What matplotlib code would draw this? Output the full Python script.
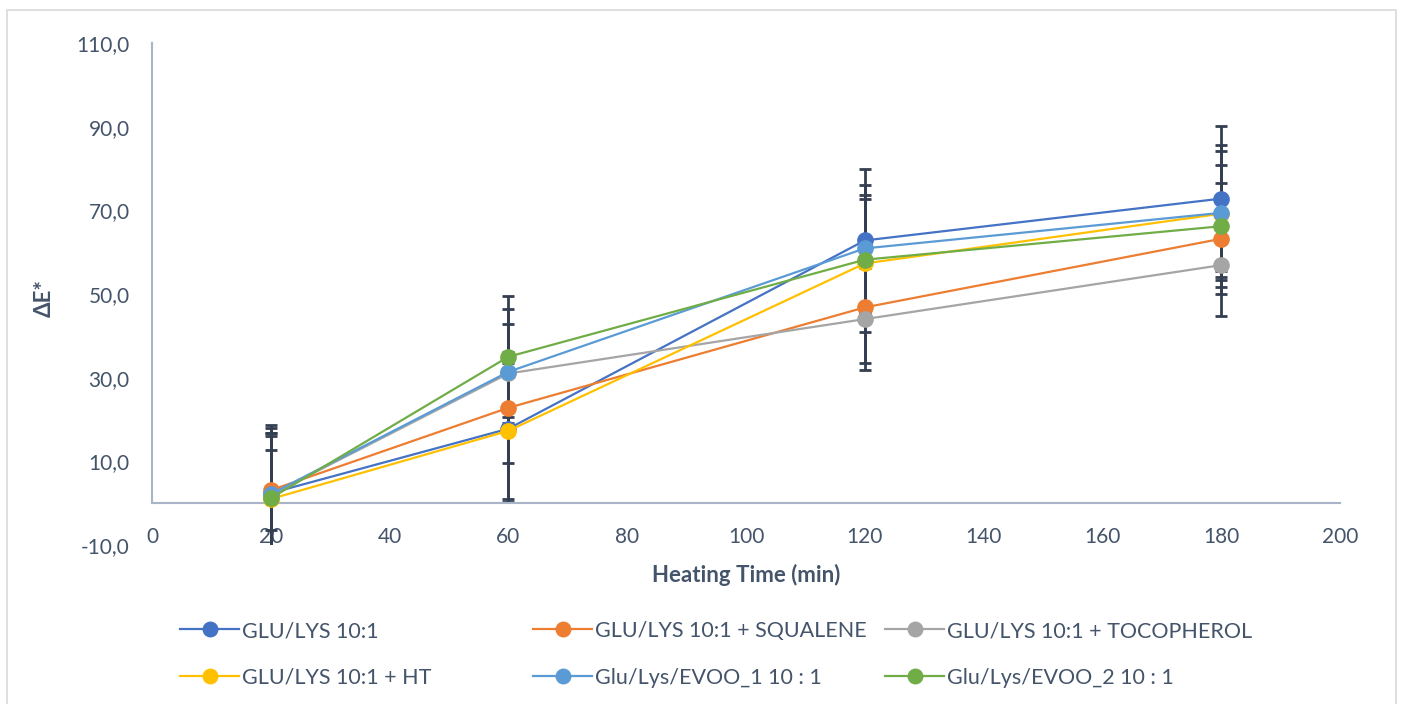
import matplotlib
matplotlib.use("Agg")
import matplotlib.pyplot as plt
from matplotlib.patches import Rectangle

# ---- data ----
heating_time = [20, 60, 120, 180]
series_names = ["GLU/LYS 10:1", "GLU/LYS 10:1 + SQUALENE", "GLU/LYS 10:1 + TOCOPHEROL",
                "GLU/LYS 10:1 + HT", "Glu/Lys/EVOO_1 10 : 1", "Glu/Lys/EVOO_2 10 : 1"]
glu_lys = [2.4, 17.8, 62.8, 72.8]
glu_lys_err = [16.2, 17.5, 17.2, 17.3]
squalene = [3.1, 22.8, 46.8, 63.2]
squalene_err = [9.6, 13.3, 13.4, 13.3]
tocopherol = [2.0, 31.0, 44.0, 56.9]
tocopherol_err = [14.7, 11.9, 12.1, 12.2]
ht = [1.0, 17.3, 57.3, 69.2]
ht_err = [15.7, 16.2, 16.3, 15.1]
evoo1 = [2.2, 31.4, 60.9, 69.4]
evoo1_err = [15.7, 15.1, 15.1, 16.1]
evoo2 = [1.2, 35.0, 58.2, 66.2]
evoo2_err = [14.8, 14.5, 14.6, 14.6]

x_ticks = [0, 20, 40, 60, 80, 100, 120, 140, 160, 180, 200]
y_ticks = [-10, 10, 30, 50, 70, 90, 110]
y_tick_labels = ["-10,0", "10,0", "30,0", "50,0", "70,0", "90,0", "110,0"]

colors = ["#4472C4", "#ED7D31", "#A5A5A5", "#FFC000", "#5B9BD5", "#70AD47"]
values = [glu_lys, squalene, tocopherol, ht, evoo1, evoo2]
errors = [glu_lys_err, squalene_err, tocopherol_err, ht_err, evoo1_err, evoo2_err]

text_color = "#44546A"
axis_color = "#A9B4C8"
err_color = "#333F50"

plt.rcParams['font.family'] = ['Lato', 'DejaVu Sans']

fig = plt.figure(figsize=(14.01, 7.04), dpi=100)
ax = fig.add_axes([152 / 1401, 1 - 545 / 704, (1340 - 152) / 1401, (545 - 43) / 704])

# error bars first
for v, e in zip(values, errors):
    ax.errorbar(heating_time, v, yerr=e, fmt='none', ecolor=err_color,
                elinewidth=2.0, capsize=4.3, capthick=2.0, zorder=2)

handles = []
for name, v, c in zip(series_names, values, colors):
    h, = ax.plot(heating_time, v, color=c, lw=1.6, marker='o', markersize=11,
                 markerfacecolor=c, markeredgecolor=c, label=name, zorder=3)
    handles.append(h)

ax.set_xlim(0, 200)
ax.set_ylim(-10, 110)
ax.set_xticks(x_ticks)
ax.set_yticks(y_ticks)
ax.set_yticklabels(y_tick_labels)

for s in ['top', 'right']:
    ax.spines[s].set_visible(False)
ax.spines['left'].set_bounds(0, 110)
ax.spines['left'].set_color(axis_color)
ax.spines['left'].set_linewidth(1.5)
ax.spines['bottom'].set_position(('data', 0))
ax.spines['bottom'].set_color(axis_color)
ax.spines['bottom'].set_linewidth(1.5)

ax.tick_params(axis='both', length=0, labelsize=15, labelcolor=text_color)
ax.tick_params(axis='x', pad=17)
ax.tick_params(axis='y', pad=16)

ax.set_xlabel("Heating Time (min)", fontsize=16, fontweight='bold', color=text_color, labelpad=12)
ax.set_ylabel("ΔE*", fontsize=16, fontweight='bold', color=text_color)
ax.yaxis.set_label_coords((55 - 152) / 1188, 0.492)

# legend: three equal-width columns, two rows
col_x = [180, 533, 885]
for k, x0 in enumerate(col_x):
    idx = [k, k + 3]
    leg = fig.legend([handles[i] for i in idx], [series_names[i] for i in idx],
                     ncol=1, loc='upper left', bbox_to_anchor=(x0 / 1401, 1 - 621 / 704),
                     frameon=False, fontsize=15.5, handlelength=2.75, handletextpad=0.15,
                     labelspacing=1.25, borderpad=0, borderaxespad=0, markerscale=0.95)
    for t in leg.get_texts():
        t.set_color(text_color)

fig.patches.append(Rectangle((7 / 1401, -0.01), (1396 - 7) / 1401, 1 - 10 / 704 + 0.01,
                             transform=fig.transFigure, fill=False,
                             edgecolor="#D9D9D9", lw=1.2))

fig.savefig("out.png", dpi=100)
